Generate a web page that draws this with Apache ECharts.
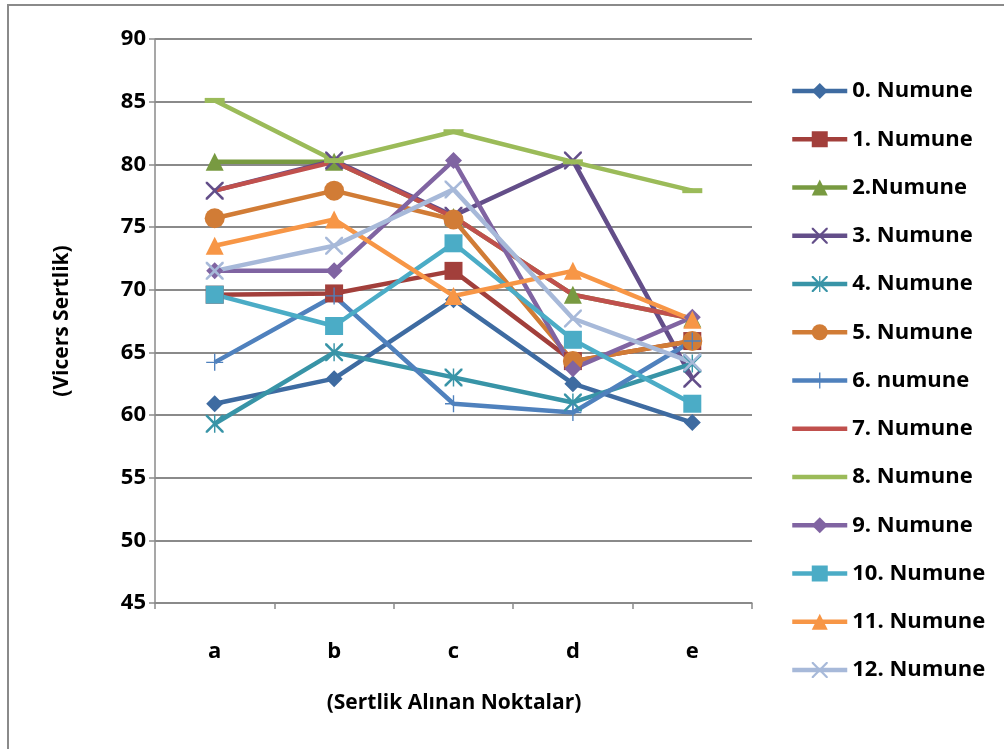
<!DOCTYPE html>
<html>
<head>
<meta charset="utf-8">
<script src="https://cdn.jsdelivr.net/npm/echarts@6/dist/echarts.min.js"></script>
<style>
  html, body { margin: 0; padding: 0; background: #fff; }
  #chart { width: 1004px; height: 749px; }
</style>
</head>
<body>
<div id="chart"></div>
<script>
// Measurement points along the sample
const categories = ['a', 'b', 'c', 'd', 'e'];

// Vickers hardness per sample (Numune)
const seriesNames = [
  '0. Numune', '1. Numune', '2.Numune', '3. Numune', '4. Numune', '5. Numune',
  '6. numune', '7. Numune', '8. Numune', '9. Numune', '10. Numune', '11. Numune', '12. Numune'
];
const numune0  = [60.9, 62.9, 69.2, 62.5, 59.4];
const numune1  = [69.6, 69.7, 71.5, 64.3, 65.9];
const numune2  = [80.2, 80.2, 75.8, 69.6, 67.7];
const numune3  = [77.9, 80.3, 75.9, 80.3, 62.9];
const numune4  = [59.3, 65.0, 63.0, 61.0, 64.1];
const numune5  = [75.7, 77.9, 75.6, 64.3, 65.9];
const numune6  = [64.2, 69.5, 60.9, 60.2, 65.9];
const numune7  = [77.9, 80.2, 75.8, 69.6, 67.7];
const numune8  = [85.1, 80.3, 82.6, 80.2, 77.9];
const numune9  = [71.5, 71.5, 80.3, 63.7, 67.8];
const numune10 = [69.6, 67.1, 73.7, 66.0, 60.9];
const numune11 = [73.5, 75.6, 69.5, 71.5, 67.6];
const numune12 = [71.5, 73.5, 78.0, 67.7, 64.2];
const allValues = [numune0, numune1, numune2, numune3, numune4, numune5, numune6,
                   numune7, numune8, numune9, numune10, numune11, numune12];

const yTicks = { min: 45, max: 90, interval: 5 };

// Marker shapes
const X_PATH = 'path://M0,0 L2,0 L10,8 L18,0 L20,0 L20,2 L12,10 L20,18 L20,20 L18,20 L10,12 L2,20 L0,20 L0,18 L8,10 L0,2 Z';
const STAR_PATH = 'path://M0,0 L2,0 L10,8 L18,0 L20,0 L20,2 L12,10 L20,18 L20,20 L18,20 L10,12 L2,20 L0,20 L0,18 L8,10 L0,2 Z M9.2,0 L10.8,0 L10.8,20 L9.2,20 Z';
const PLUS_PATH = 'path://M9.2,0 L10.8,0 L10.8,20 L9.2,20 Z M0,9.2 L20,9.2 L20,10.8 L0,10.8 Z';
// Plain line swatch for legend entries without a visible marker
const LINE_ICON = 'path://M0,0 L0,20 Z M0,7.75 L55,7.75 L55,12.25 L0,12.25 Z';

const styles = [
  { color: '#3E6BA1', symbol: 'diamond', size: 17 },
  { color: '#A23F3B', symbol: 'rect', size: 18 },
  { color: '#789A41', symbol: 'triangle', size: 18 },
  { color: '#634E89', symbol: X_PATH, size: 18 },
  { color: '#3894A7', symbol: STAR_PATH, size: 18 },
  { color: '#D17C36', symbol: 'circle', size: 20 },
  { color: '#4F81BD', symbol: PLUS_PATH, size: 17 },
  { color: '#C0504D', symbol: 'none', size: 0 },
  { color: '#9BBB59', symbol: 'rect', size: [20, 5] },
  { color: '#8064A2', symbol: 'diamond', size: 17 },
  { color: '#4BACC6', symbol: 'rect', size: 18 },
  { color: '#F79646', symbol: 'triangle', size: 18 },
  { color: '#A7B9D9', symbol: X_PATH, size: 18 }
];
const plainLegend = ['7. Numune', '8. Numune'];

const FONT = '"Open Sans", "DejaVu Sans", sans-serif';

const series = seriesNames.map((name, i) => ({
  name: name,
  type: 'line',
  data: allValues[i],
  symbol: styles[i].symbol,
  symbolSize: styles[i].size,
  showSymbol: styles[i].symbol !== 'none',
  lineStyle: { color: styles[i].color, width: 4.5 },
  itemStyle: { color: styles[i].color },
  emphasis: { disabled: true },
  animation: false
}));

const legendData = seriesNames.map(name =>
  plainLegend.includes(name) ? { name: name, icon: LINE_ICON } : { name: name }
);

const chart = echarts.init(document.getElementById('chart'), null, { renderer: 'canvas' });
chart.setOption({
  backgroundColor: '#ffffff',
  animation: false,
  grid: { left: 155, right: 252, top: 39, bottom: 146, containLabel: false },
  xAxis: {
    type: 'category',
    data: categories,
    boundaryGap: true,
    axisLine: { lineStyle: { color: '#8a8a8a', width: 1.5 } },
    axisTick: { show: true, length: 6, lineStyle: { color: '#8a8a8a', width: 1.5 } },
    axisLabel: { color: '#000', fontFamily: FONT, fontWeight: 'bold', fontSize: 22, margin: 38 },
    splitLine: { show: false }
  },
  yAxis: {
    type: 'value',
    min: yTicks.min,
    max: yTicks.max,
    interval: yTicks.interval,
    axisLine: { show: true, lineStyle: { color: '#8a8a8a', width: 1.5 } },
    axisTick: { show: true, length: 6, lineStyle: { color: '#8a8a8a', width: 1.5 } },
    axisLabel: { color: '#000', fontFamily: FONT, fontWeight: 'bold', fontSize: 22, margin: 9 },
    splitLine: { show: true, lineStyle: { color: '#8a8a8a', width: 2 } }
  },
  legend: {
    orient: 'vertical',
    left: 790,
    top: 79,
    itemWidth: 55,
    itemHeight: 20,
    itemGap: 24.25,
    padding: 0,
    data: legendData,
    lineStyle: { width: 4.5 },
    textStyle: { color: '#000', fontFamily: FONT, fontWeight: 'bold', fontSize: 22, lineHeight: 24 },
    selectedMode: false
  },
  graphic: [
    {
      type: 'rect',
      silent: true,
      shape: { x: 8, y: 5, width: 1100, height: 900 },
      style: { fill: 'none', stroke: '#8a8a8a', lineWidth: 2 }
    },
    {
      type: 'text',
      silent: true,
      x: 62, y: 321,
      rotation: Math.PI / 2,
      style: {
        text: '(Vicers Sertlik)',
        fill: '#000',
        font: 'bold 21px ' + FONT,
        align: 'center',
        verticalAlign: 'middle'
      }
    },
    {
      type: 'text',
      silent: true,
      x: 454, y: 703,
      style: {
        text: '(Sertlik Alınan Noktalar)',
        fill: '#000',
        font: 'bold 21px ' + FONT,
        align: 'center',
        verticalAlign: 'middle'
      }
    }
  ],
  series: series
});
</script>
</body>
</html>
